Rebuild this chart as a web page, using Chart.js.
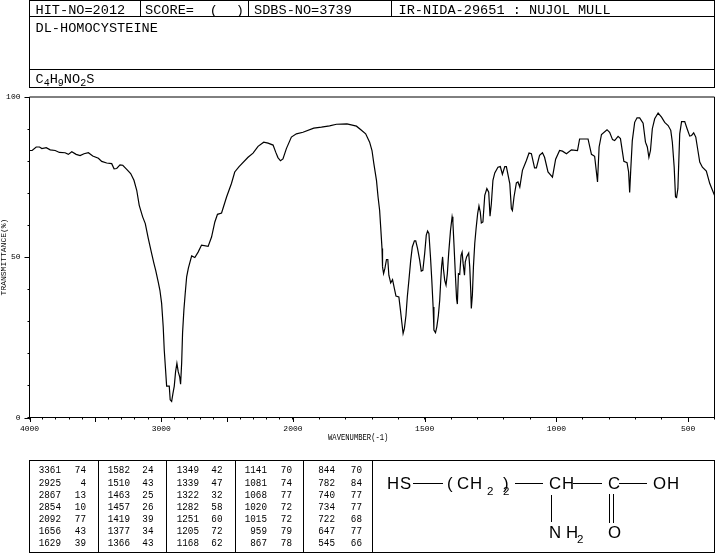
<!DOCTYPE html>
<html lang="en">

<head>
    <meta charset="UTF-8">
    <title>DL-Homocysteine IR spectrum</title>
    <script src="https://cdn.jsdelivr.net/npm/chart.js"></script>
    <style>
        html, body { margin: 0; padding: 0; background: #fff; }
        #wrap { position: relative; width: 715px; height: 553px; overflow: hidden; }
        #spectrum { position: absolute; left: 0; top: 0; }
        #overlay { position: absolute; left: 0; top: 0; font-family: "Liberation Mono", monospace; fill: #000; }
        #overlay line { stroke: #000; stroke-width: 1; shape-rendering: crispEdges; }
    </style>
</head>

<body>
    <div id="wrap">
        <canvas id="spectrum" width="715" height="553"></canvas>
        <svg id="overlay" width="715" height="553" xmlns="http://www.w3.org/2000/svg"></svg>
    </div>

    <script>
        // values
        const wavenumbers = [4000, 3980, 3949, 3924, 3906, 3873, 3843, 3805, 3773, 3730, 3705, 3679, 3646, 3616, 3586, 3553, 3520, 3477, 3452, 3414,
            3376, 3358, 3338, 3313, 3292, 3262, 3232, 3207, 3186, 3167, 3141, 3121, 3098, 3073, 3055, 3042, 3023, 3010, 2997, 2985,
            2977, 2967, 2959, 2949, 2939, 2932, 2921, 2911, 2901, 2891, 2881, 2871, 2860, 2853, 2845, 2838, 2828, 2818, 2807, 2794,
            2769, 2745, 2720, 2694, 2644, 2618, 2593, 2573, 2542, 2504, 2467, 2442, 2409, 2341, 2303, 2265, 2222, 2189, 2151, 2131,
            2114, 2095, 2076, 2050, 2012, 1987, 1962, 1921, 1892, 1861, 1835, 1795, 1759, 1740, 1724, 1709, 1700, 1693, 1683, 1677,
            1671, 1667, 1662, 1660, 1656, 1651, 1645, 1640, 1636, 1629, 1622, 1615, 1609, 1598, 1592, 1587, 1582, 1577, 1571, 1566,
            1560, 1553, 1547, 1539, 1534, 1527, 1519, 1513, 1507, 1500, 1494, 1489, 1484, 1478, 1473, 1468, 1465, 1459, 1454, 1448,
            1443, 1439, 1436, 1432, 1429, 1424, 1419, 1414, 1409, 1402, 1396, 1393, 1389, 1384, 1379, 1376, 1372, 1367, 1362, 1358,
            1354, 1349, 1346, 1341, 1333, 1329, 1325, 1323, 1319, 1315, 1310, 1305, 1299, 1294, 1289, 1285, 1279, 1272, 1264, 1257,
            1252, 1247, 1241, 1234, 1222, 1213, 1205, 1196, 1190, 1177, 1171, 1167, 1161, 1152, 1146, 1139, 1129, 1114, 1104, 1095,
            1083, 1076, 1064, 1053, 1045, 1032, 1015, 1003, 988, 977, 962, 943, 920, 912, 880, 867, 855, 844, 838, 829,
            808, 798, 787, 779, 766, 757, 744, 732, 726, 722, 718, 712, 703, 694, 684, 671, 662, 655, 649, 643,
            636, 627, 614, 601, 589, 576, 566, 560, 553, 548, 544, 539, 532, 525, 513, 504, 494, 487, 479, 471,
            463, 456, 446, 431, 418, 400];
        const transmittance = [83.3, 83.3, 84.4, 84.4, 83.9, 84.2, 83.5, 83.3, 82.7, 82.6, 82.1, 82.9, 82.1, 81.7, 82.3, 82.6, 81.6, 80.9, 79.9, 79.4,
            79.2, 77.6, 77.7, 78.8, 78.7, 77.4, 76.1, 74, 70.9, 66.2, 62.6, 60.5, 55.8, 51.2, 48, 45.9, 42.3, 39.7, 35.6, 28.3,
            21, 14.8, 9.8, 9.8, 9.8, 5.5, 5, 7.5, 9.8, 14.3, 16.9, 14.3, 12.7, 10.4, 16.9, 26.4, 33.5, 38.7, 43.9, 46.6,
            50.4, 49.9, 51.6, 53.8, 53.4, 56.3, 61, 63.4, 63.8, 68.8, 73, 76.6, 78.3, 81.2, 82.5, 84.6, 85.9, 85.6, 85, 82.8,
            81.1, 80.1, 80.7, 83.9, 87.5, 88.5, 89, 90.3, 90.6, 91, 91.5, 91.6, 90.9, 89.6, 88.5, 85.9, 83.3, 79.2, 74, 68.8,
            64.6, 59.4, 52.7, 47, 44.9, 46.5, 49.3, 49.3, 44.4, 42, 43, 40.2, 37.9, 37.6, 33.5, 29.8, 26.2, 27.8, 31.9, 37.6,
            42.8, 49.1, 53.2, 55.1, 55.1, 52.7, 49.1, 45.7, 45.9, 51.2, 56.9, 58.2, 57.4, 50.1, 42.8, 34.5, 27.3, 26.5, 28.3, 31.9,
            36.6, 42.8, 47, 50.1, 46.5, 42.8, 41.3, 44.9, 51.2, 58.4, 62.6, 61, 54.3, 45.4, 37.1, 35.4, 44.9, 44.7, 50.6, 51.6,
            48, 44.4, 48.5, 50.1, 51.3, 47, 39.2, 34, 38.2, 47, 54.3, 58.9, 63.6, 66, 64.1, 60.7, 61, 69.3, 71.4, 70.3,
            62.8, 66.7, 74, 76.3, 78.1, 78.3, 75.9, 78.3, 78.3, 73, 65.2, 64.6, 68.8, 73.2, 73.5, 71.9, 77.1, 80.2, 82.5, 82.3,
            77.9, 77.9, 81.8, 82.6, 81.2, 76.6, 75, 80.6, 83.3, 83.1, 82.3, 83.5, 83.3, 86.9, 86.9, 82.1, 81.5, 73.5, 84.4, 88.3,
            89.8, 89, 86.7, 86.4, 87.7, 87, 79.9, 79.5, 76.6, 70.2, 77.1, 86.4, 92.1, 93.5, 93.5, 91.8, 85.9, 84.4, 81.2, 83.3,
            90.1, 93.2, 95, 93.7, 92.1, 91.1, 89.6, 85.9, 78.1, 68.8, 68.6, 71.4, 88.5, 92.3, 92.3, 90.1, 87.8, 88, 88.8, 87.5,
            83.3, 79.7, 78.1, 76.9, 73, 69.3];

        // axis ticks
        const xTicks = [4000, 3900, 3800, 3700, 3600, 3500, 3400, 3300, 3200, 3100, 3000, 2900, 2800, 2700, 2600, 2500, 2400, 2300, 2200, 2100,
            2000, 1900, 1800, 1700, 1600, 1500, 1400, 1300, 1200, 1100, 1000, 900, 800, 700, 600, 500, 400];
        const xLongTicks = [4000, 3500, 3000, 2500, 2000, 1500, 1000, 500];
        const xLabels = [4000, 3000, 2000, 1500, 1000, 500];
        const yLabels = [0, 50, 100];

        // peak table, one list per column
        const peakWave = [
            [3361, 2925, 2867, 2854, 2092, 1656, 1629],
            [1582, 1510, 1463, 1457, 1419, 1377, 1366],
            [1349, 1339, 1322, 1282, 1251, 1205, 1168],
            [1141, 1081, 1068, 1020, 1015, 959, 867],
            [844, 782, 740, 734, 722, 647, 545]
        ];
        const peakTrans = [
            [74, 4, 13, 10, 77, 43, 39],
            [24, 43, 25, 26, 39, 34, 43],
            [42, 47, 32, 58, 60, 72, 62],
            [70, 74, 77, 72, 72, 79, 78],
            [70, 84, 77, 77, 68, 77, 66]
        ];

        // spectrum axis: 4000-2000 is drawn at half the scale of 2000-400
        class WavenumberScale extends Chart.LinearScale {
            getPixelForValue(value) {
                const units = value >= 2000 ? (4000 - value) / 2 : 1000 + (2000 - value);
                return this.left + this.width * units / 2600;
            }
            getValueForPixel(pixel) {
                const units = (pixel - this.left) / this.width * 2600;
                return units <= 1000 ? 4000 - units * 2 : 2000 - (units - 1000);
            }
        }
        WavenumberScale.id = 'wavenumber';
        WavenumberScale.defaults = Chart.LinearScale.defaults;
        Chart.register(WavenumberScale);

        // top and right frame, longer marks on the main ticks
        const frameAndTicks = {
            id: 'frameAndTicks',
            afterDatasetsDraw(chart) {
                const ctx = chart.ctx, area = chart.chartArea, x = chart.scales.x, y = chart.scales.y;
                ctx.save();
                ctx.strokeStyle = '#000';
                ctx.lineWidth = 1;
                ctx.beginPath();
                ctx.moveTo(area.left, area.top);
                ctx.lineTo(area.right, area.top);
                ctx.lineTo(area.right, area.bottom);
                xLongTicks.forEach(v => {
                    const px = Math.round(x.getPixelForValue(v)) + 0.5;
                    ctx.moveTo(px, area.bottom);
                    ctx.lineTo(px, area.bottom + 4.5);
                });
                yLabels.forEach(v => {
                    const py = Math.round(y.getPixelForValue(v)) + 0.5;
                    ctx.moveTo(area.left, py);
                    ctx.lineTo(area.left - 5, py);
                });
                ctx.stroke();
                ctx.restore();
            }
        };

        const tickFont = { family: 'Liberation Mono', size: 8 };

        new Chart(document.getElementById('spectrum'), {
            type: 'line',
            data: {
                datasets: [{
                    data: wavenumbers.map((w, i) => ({ x: w, y: transmittance[i] })),
                    borderColor: '#000',
                    borderWidth: 1.2,
                    pointRadius: 0,
                    tension: 0,
                    fill: false
                }]
            },
            options: {
                responsive: false,
                animation: false,
                layout: { padding: { top: 97, right: 0.5, left: 0, bottom: 0 } },
                plugins: { legend: { display: false }, tooltip: { enabled: false } },
                scales: {
                    x: {
                        type: 'wavenumber',
                        min: 400,
                        max: 4000,
                        afterBuildTicks: scale => { scale.ticks = xTicks.map(v => ({ value: v })); },
                        afterFit: scale => {
                            scale.height = 135.5;
                            // labels must not pull the plot in from the right edge
                            scale.paddingLeft = 0;
                            scale.paddingRight = 0;
                        },
                        border: { color: '#000', width: 1 },
                        grid: { drawOnChartArea: false, tickLength: 2, tickColor: '#000' },
                        ticks: {
                            color: '#000',
                            font: tickFont,
                            padding: 5,
                            autoSkip: false,
                            maxRotation: 0,
                            callback: v => xLabels.includes(v) ? String(v) : ''
                        }
                    },
                    y: {
                        min: 0,
                        max: 100,
                        afterFit: scale => { scale.width = 29.5; },
                        border: { color: '#000', width: 1 },
                        grid: { drawOnChartArea: false, tickLength: 2, tickColor: '#000' },
                        ticks: {
                            color: '#000',
                            font: tickFont,
                            padding: 7,
                            stepSize: 10,
                            autoSkip: false,
                            callback: v => yLabels.includes(v) ? String(v) : ''
                        }
                    }
                }
            },
            plugins: [frameAndTicks]
        });

        // header boxes, peak table and structure are plain svg on top of the canvas
        const svg = document.getElementById('overlay');
        const NS = 'http://www.w3.org/2000/svg';

        function line(x1, y1, x2, y2) {
            const l = document.createElementNS(NS, 'line');
            l.setAttribute('x1', x1); l.setAttribute('y1', y1);
            l.setAttribute('x2', x2); l.setAttribute('y2', y2);
            svg.appendChild(l);
        }

        function text(str, x, y, size, opts) {
            opts = opts || {};
            const t = document.createElementNS(NS, 'text');
            t.textContent = str;
            t.setAttribute('font-size', size);
            if (opts.family) t.setAttribute('font-family', opts.family);
            if (opts.anchor) t.setAttribute('text-anchor', opts.anchor);
            t.setAttribute('transform', 'translate(' + x + ' ' + y + ')' + (opts.extra || ''));
            svg.appendChild(t);
            return t;
        }

        // header
        line(29.5, 0.5, 715, 0.5);
        line(29.5, 16.5, 715, 16.5);
        line(29.5, 69.5, 715, 69.5);
        line(29.5, 87.5, 715, 87.5);
        line(29.5, 0, 29.5, 88);
        line(714.5, 0, 714.5, 88);
        line(140.5, 0, 140.5, 16);
        line(248.5, 0, 248.5, 16);
        line(391.5, 0, 391.5, 16);
        text('HIT-NO=2012', 35.5, 14, 13.6);
        text('SCORE=', 145, 14, 13.6);
        text('(', 209.7, 14, 13.6);
        text(')', 235.7, 14, 13.6);
        text('SDBS-NO=3739', 254, 14, 13.6);
        text('IR-NIDA-29651 : NUJOL MULL', 398.5, 14, 13.6);
        text('DL-HOMOCYSTEINE', 35.5, 32, 13.6);
        let x = 35.5;
        [['C', 0], ['4', 1], ['H', 0], ['9', 1], ['NO', 0], ['2', 1], ['S', 0]].forEach(p => {
            const size = p[1] ? 10 : 13.6;
            text(p[0], x, p[1] ? 85.5 : 83, size);
            x += p[0].length * size * 0.6;
        });

        // axis titles
        text('WAVENUMBER(-1)', 328, 440, 7.2, { extra: ' scale(1 1.15)' });
        text('TRANSMITTANCE(%)', 6, 257, 8, { anchor: 'middle', extra: ' rotate(-90)' });

        // peak table
        line(29.5, 460.5, 715, 460.5);
        line(29.5, 552.5, 715, 552.5);
        [29.5, 98.5, 166.5, 235.5, 303.5, 372.5, 714.5].forEach(v => line(v, 460, v, 553));
        const waveEnds = [61, 130, 199, 267, 335];
        const transEnds = [86, 153.5, 222.5, 292, 362];
        const rowCentres = [469.3, 481.7, 494, 506, 518.3, 530.3, 542.3];
        peakWave.forEach((col, c) => col.forEach((w, r) => {
            const extra = ' scale(1 1.25)';
            text(String(w), waveEnds[c], rowCentres[r] + 3.9, 9.3, { anchor: 'end', extra: extra });
            text(String(peakTrans[c][r]), transEnds[c], rowCentres[r] + 3.9, 9.3, { anchor: 'end', extra: extra });
        }));

        // structure
        const sans = 'Liberation Sans';
        const sp = ' scale(1.05 1)';
        line(413, 483.5, 443, 483.5);
        line(515, 483.5, 543, 483.5);
        line(573, 483.5, 602, 483.5);
        line(619, 483.5, 647, 483.5);
        line(551.5, 495, 551.5, 522);
        line(609.5, 494, 609.5, 523);
        line(613.5, 494, 613.5, 523);
        [['H', 387], ['S', 400], ['(', 447], ['C', 457], ['H', 470], ['C', 549], ['H', 562], ['C', 608], ['O', 653], ['H', 667], [')', 503]]
            .forEach(p => text(p[0], p[1], 489, 16, { family: sans, extra: sp }));
        [['N', 549], ['H', 566], ['O', 608]].forEach(p => text(p[0], p[1], 538, 16, { family: sans, extra: sp }));
        text('2', 487, 494.5, 11, { family: sans, extra: sp });
        text('2', 503, 494.5, 11, { family: sans, extra: sp });
        text('2', 577, 543, 11, { family: sans, extra: sp });
    </script>
</body>
</html>
